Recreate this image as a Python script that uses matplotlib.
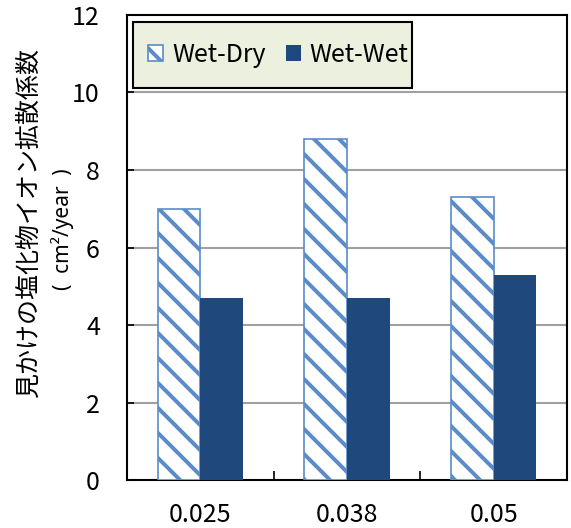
import numpy as np
import matplotlib

matplotlib.use("Agg")
import matplotlib.pyplot as plt
from matplotlib.patches import Rectangle

# dpi 75 so that the hatch tile (72 pt) gives stripes about 25 px apart
DPI = 75

plt.rcParams['font.family'] = ['Noto Sans CJK JP', 'DejaVu Sans']
plt.rcParams['hatch.linewidth'] = 3.8

# data
categories = ['0.025', '0.038', '0.05']
wet_dry = [7.0, 8.8, 7.3]
wet_wet = [4.7, 4.7, 5.3]
y_ticks = [0, 2, 4, 6, 8, 10, 12]

fig = plt.figure(figsize=(571 / DPI, 528 / DPI), dpi=DPI)
ax = fig.add_axes([0.2224, 0.0909, 0.7706, 0.8807])

x = np.arange(len(categories))
w = 0.29

ax.bar(x - w / 2, wet_dry, w, color='white', edgecolor='#5B8CC8',
       hatch='\\', linewidth=1.6, label='Wet-Dry', zorder=3)
ax.bar(x + w / 2, wet_wet, w, color='#1F497D', edgecolor='#1F497D',
       linewidth=0, label='Wet-Wet', zorder=3)

ax.set_xlim(-0.5, 2.5)
ax.set_ylim(0, 12)
ax.set_yticks(y_ticks)
ax.tick_params(axis='y', direction='in', length=6.5, width=1.6,
               labelsize=24, pad=26)

# category ticks at boundaries, labels at centers
ax.set_xticks([0.5, 1.5])
ax.set_xticklabels([])
ax.set_xticks(x, minor=True)
ax.set_xticklabels(categories, minor=True)
ax.tick_params(axis='x', which='major', direction='in', length=9, width=1.6)
ax.tick_params(axis='x', which='minor', length=0, labelsize=24, pad=21)

for yv in y_ticks[1:-1]:
    ax.axhline(yv, color='#A0A0A0', linewidth=2, zorder=1)

for s in ax.spines.values():
    s.set_color('black')
    s.set_linewidth(2)

# legend box drawn separately so its size can follow the reference
box = Rectangle((0.0136, 0.843), 0.634, 0.142, transform=ax.transAxes,
                facecolor='#EBF1DE', edgecolor='black', linewidth=2, zorder=4)
ax.add_patch(box)
leg = ax.legend(loc='center', bbox_to_anchor=(0.344, 0.914),
                ncol=2, fontsize=24, frameon=False,
                borderpad=0, handlelength=0.6, handleheight=0.6,
                handletextpad=0.35, columnspacing=0.8, borderaxespad=0)
leg.set_zorder(5)

fig.text(0.0505, 0.577, '見かけの塩化物イオン拡散係数', rotation=90,
         ha='center', va='center', fontsize=24)
fig.text(0.109, 0.565, '(  cm²/year  )', rotation=90,
         ha='center', va='center', fontsize=20, family=['Noto Sans', 'DejaVu Sans'])

fig.savefig('out.png', dpi=DPI)
